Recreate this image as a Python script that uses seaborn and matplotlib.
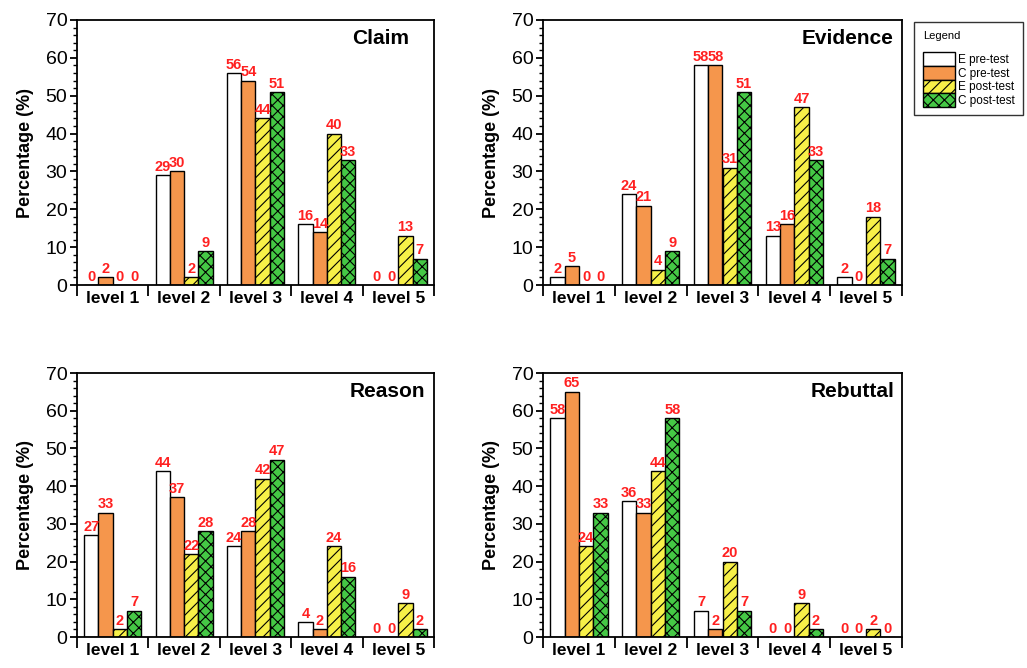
import numpy as np
import pandas as pd
import seaborn as sns
import matplotlib
matplotlib.use("Agg")
import matplotlib.pyplot as plt
from matplotlib.patches import Patch
from matplotlib.ticker import FixedLocator, MultipleLocator

plt.rcParams['font.family'] = ['Liberation Sans', 'DejaVu Sans']
plt.rcParams['hatch.linewidth'] = 0.8

levels = ["level 1", "level 2", "level 3", "level 4", "level 5"]
groups = ["E pre-test", "C pre-test", "E post-test", "C post-test"]

# values (%)
claim_e_pre = [0, 29, 56, 16, 0]
claim_c_pre = [2, 30, 54, 14, 0]
claim_e_post = [0, 2, 44, 40, 13]
claim_c_post = [0, 9, 51, 33, 7]

evidence_e_pre = [2, 24, 58, 13, 2]
evidence_c_pre = [5, 21, 58, 16, 0]
evidence_e_post = [0, 4, 31, 47, 18]
evidence_c_post = [0, 9, 51, 33, 7]

reason_e_pre = [27, 44, 24, 4, 0]
reason_c_pre = [33, 37, 28, 2, 0]
reason_e_post = [2, 22, 42, 24, 9]
reason_c_post = [7, 28, 47, 16, 2]

rebuttal_e_pre = [58, 36, 7, 0, 0]
rebuttal_c_pre = [65, 33, 2, 0, 0]
rebuttal_e_post = [24, 44, 20, 9, 2]
rebuttal_c_post = [33, 58, 7, 2, 0]

panels = {
    "Claim": [claim_e_pre, claim_c_pre, claim_e_post, claim_c_post],
    "Evidence": [evidence_e_pre, evidence_c_pre, evidence_e_post, evidence_c_post],
    "Reason": [reason_e_pre, reason_c_pre, reason_e_post, reason_c_post],
    "Rebuttal": [rebuttal_e_pre, rebuttal_c_pre, rebuttal_e_post, rebuttal_c_post],
}

colors = ["#ffffff", "#f5964c", "#f7f048", "#45c845"]
hatches = [None, None, "///", "xxx"]

W, H = 1027, 668
fig = plt.figure(figsize=(W / 100, H / 100), dpi=100)

# axes boxes in pixels: left, top, right, bottom
boxes = {
    "Claim": (77, 20, 434, 285),
    "Evidence": (543, 20, 902, 285),
    "Reason": (77, 373, 434, 637),
    "Rebuttal": (543, 373, 902, 637),
}
title_x = {"Claim": 0.93, "Evidence": 0.975, "Reason": 0.975, "Rebuttal": 0.98}

for name, series in panels.items():
    l, t, r, b = boxes[name]
    ax = fig.add_axes([l / W, 1 - b / H, (r - l) / W, (b - t) / H])
    rows = []
    for g, vals in zip(groups, series):
        for lv, v in zip(levels, vals):
            rows.append({"level": lv, "group": g, "pct": v})
    df = pd.DataFrame(rows)
    sns.barplot(data=df, x="level", y="pct", hue="group", order=levels,
                hue_order=groups, palette=colors, saturation=1,
                edgecolor="black", linewidth=1.0, width=0.8, legend=False, ax=ax)
    for i, cont in enumerate(ax.containers):
        for p in cont:
            if hatches[i]:
                p.set_hatch(hatches[i])
        ax.bar_label(cont, labels=[str(v) for v in series[i]], color="#ff2020",
                     fontweight="bold", fontsize=10.5, padding=1)

    ax.set_xlim(-0.5, 4.5)
    ax.set_ylim(0, 70)
    ax.xaxis.set_major_locator(FixedLocator(np.arange(-0.5, 5, 1)))
    ax.xaxis.set_minor_locator(FixedLocator(np.arange(0, 5, 1)))
    ax.set_xticklabels([])
    ax.set_xticklabels(levels, minor=True, fontweight="bold", fontsize=12.5)
    ax.tick_params(axis="x", which="major", length=8, width=1.3, direction="out")
    ax.tick_params(axis="x", which="minor", length=0, pad=4)
    ax.yaxis.set_major_locator(MultipleLocator(10))
    ax.yaxis.set_minor_locator(MultipleLocator(2))
    ax.tick_params(axis="y", which="major", length=5, width=1.3, labelsize=14, pad=2)
    ax.tick_params(axis="y", which="minor", length=3, width=1)
    for s in ax.spines.values():
        s.set_linewidth(1.3)
    ax.set_xlabel("")
    ax.set_ylabel("Percentage (%)", fontsize=13, fontweight="bold", labelpad=8)
    ax.text(title_x[name], 0.965, name, transform=ax.transAxes, ha="right",
            va="top", fontsize=15, fontweight="bold")

handles = [Patch(facecolor=c, edgecolor="black", hatch=h, linewidth=1.0)
           for c, h in zip(colors, hatches)]
leg = fig.legend(handles, groups, loc="upper left",
                 bbox_to_anchor=(912 / W, 1 - 20 / H), title="Legend\n",
                 title_fontsize=8, fontsize=8.5, frameon=True, fancybox=False,
                 edgecolor="black", handlelength=2.7, handleheight=1.4,
                 labelspacing=0.0, handletextpad=0.3, borderpad=0.7,
                 borderaxespad=0.2, alignment="left")
leg.get_frame().set_linewidth(1.0)

fig.savefig("out.png", dpi=100)
